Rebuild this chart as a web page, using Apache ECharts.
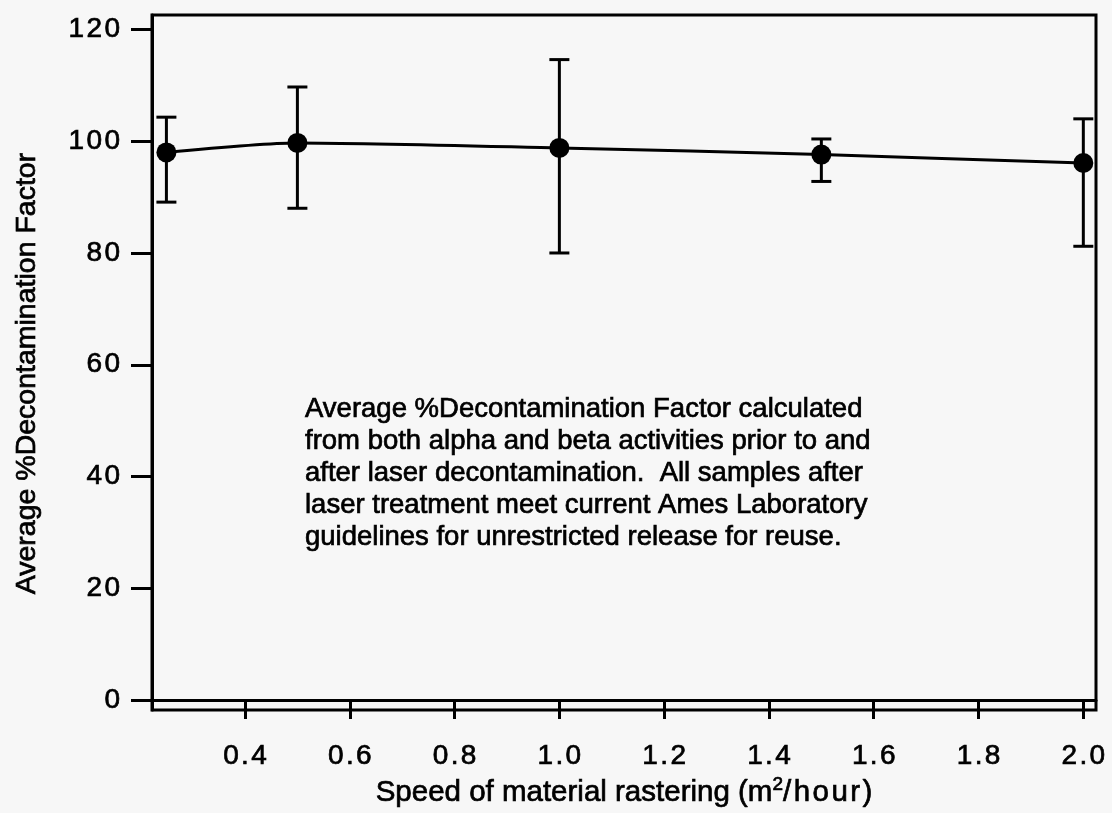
<!DOCTYPE html>
<html>
<head>
<meta charset="utf-8">
<script src="https://cdn.jsdelivr.net/npm/echarts@6/dist/echarts.min.js"></script>
<style>
html, body { margin: 0; padding: 0; background: #f7f7f7; }
#chart { width: 1112px; height: 813px; }
</style>
</head>
<body>
<div id="chart"></div>
<script>
"use strict";
// speed of rastering (m2/hour) and average %DF with error bar ends
var speeds = [0.25, 0.5, 1.0, 1.5, 2.0];
var avgDF = [98.0, 99.7, 98.8, 97.6, 96.1];
var errLow = [89.1, 88.0, 80.0, 92.8, 81.2];
var errHigh = [104.3, 109.7, 114.6, 100.4, 104.0];
var xTicks = [0.4, 0.6, 0.8, 1.0, 1.2, 1.4, 1.6, 1.8, 2.0];
var yTicks = [0, 20, 40, 60, 80, 100, 120];
var note = [
    "Average %Decontamination Factor calculated",
    "from both alpha and beta activities prior to and",
    "after laser decontamination.  All samples after",
    "laser treatment meet current Ames Laboratory",
    "guidelines for unrestricted release for reuse."
];

var FONT = "'Liberation Sans', Arial, Helvetica, sans-serif";
var INK = '#000';

//拉开字符间距
function spaced(s) {
    return String(s).split('').join('\u200A');
}

function errorBar(params, api) {
    var x = api.value(0);
    var lo = api.coord([x, api.value(1)]);
    var hi = api.coord([x, api.value(2)]);
    var half = 10;
    var style = { stroke: INK, lineWidth: 3 };
    return {
        type: 'group',
        children: [
            { type: 'line', shape: { x1: hi[0], y1: hi[1], x2: lo[0], y2: lo[1] }, style: style },
            { type: 'line', shape: { x1: hi[0] - half, y1: hi[1], x2: hi[0] + half, y2: hi[1] }, style: style },
            { type: 'line', shape: { x1: lo[0] - half, y1: lo[1], x2: lo[0] + half, y2: lo[1] }, style: style }
        ]
    };
}

var myChart = echarts.init(document.getElementById('chart'));
var lineData = speeds.map(function (s, i) { return [s, avgDF[i]]; });
var barData = speeds.map(function (s, i) { return [s, errLow[i], errHigh[i]]; });

var heavy = { textBorderColor: INK, textBorderWidth: 0.7 };

myChart.setOption({
    backgroundColor: '#f7f7f7',
    animation: false,
    title: {
        text: note.join('\n'),
        left: 305,
        top: 393,
        padding: 0,
        textStyle: Object.assign({ fontFamily: FONT, fontSize: 27.5, fontWeight: 'normal', color: INK, lineHeight: 32 }, heavy)
    },
    grid: {
        left: 152, right: 16, top: 15, bottom: 100,
        show: true, borderColor: INK, borderWidth: 3, backgroundColor: 'transparent'
    },
    xAxis: {
        type: 'value',
        min: 0.2225,
        max: 2.0242,
        splitLine: { show: false },
        axisLine: { show: true, lineStyle: { color: INK, width: 3 } },
        axisTick: { show: true, length: 19, lineStyle: { color: INK, width: 3 }, customValues: xTicks },
        axisLabel: Object.assign({
            customValues: xTicks,
            margin: 32,
            fontFamily: FONT, fontSize: 28, color: INK,
            formatter: function (v) { return spaced(v.toFixed(1)); }
        }, heavy),
        name: '{a|Speed of material rastering (m}{s|2}{a|' + spaced('/hour)') + '}',
        nameLocation: 'middle',
        nameGap: 64,
        nameTextStyle: {
            rich: {
                a: Object.assign({ fontFamily: FONT, fontSize: 29.5, color: INK, lineHeight: 34 }, heavy),
                s: Object.assign({ fontFamily: FONT, fontSize: 19, color: INK, lineHeight: 34, verticalAlign: 'top' }, heavy)
            }
        }
    },
    yAxis: {
        type: 'value',
        min: -1.78,
        max: 122.58,
        splitLine: { show: false },
        axisLine: { show: true, lineStyle: { color: INK, width: 3 } },
        axisTick: { show: true, length: 21, lineStyle: { color: INK, width: 3 }, customValues: yTicks },
        axisLabel: Object.assign({
            customValues: yTicks,
            margin: 32,
            fontFamily: FONT, fontSize: 28, color: INK,
            formatter: function (v) { return spaced(v); }
        }, heavy),
        name: 'Average %Decontamination Factor',
        nameLocation: 'middle',
        nameGap: 110,
        nameTextStyle: Object.assign({ fontFamily: FONT, fontSize: 28.5, color: INK, padding: [0, 22, 0, 0] }, heavy)
    },
    series: [
        {
            type: 'custom',
            renderItem: errorBar,
            data: barData,
            z: 3
        },
        {
            type: 'line',
            data: lineData,
            smooth: 0.25,
            symbol: 'circle',
            symbolSize: 20,
            itemStyle: { color: INK },
            lineStyle: { color: INK, width: 3 },
            z: 4
        }
    ]
});
</script>
</body>
</html>
